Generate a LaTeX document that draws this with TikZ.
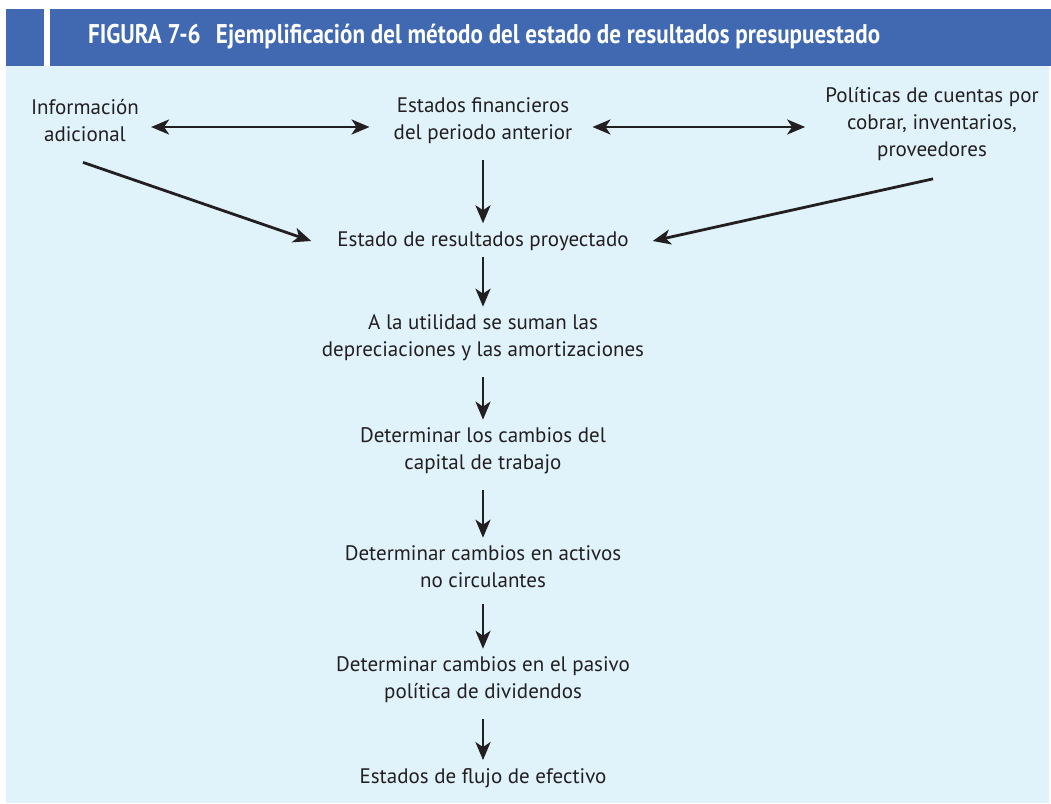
\documentclass[tikz,border=0pt]{standalone}
\usepackage{fontspec}
\setmainfont{PT Sans}
\usetikzlibrary{arrows.meta}
\definecolor{hdrblue}{RGB}{65,105,178}
\definecolor{panel}{RGB}{224,243,250}
\definecolor{ink}{RGB}{35,31,32}
\begin{document}
\begin{tikzpicture}[x=1pt,y=-1pt,
  lbl/.style={align=center, text=ink, font=\fontsize{21}{27}\selectfont, inner sep=2pt},
  flow/.style={-{Stealth[length=18pt,width=15pt,inset=5pt]}, line width=2.8pt, draw=ink},
  twoway/.style={{Stealth[length=18pt,width=15pt,inset=5pt]}-{Stealth[length=18pt,width=15pt,inset=5pt]}, line width=2.8pt, draw=ink}]
\useasboundingbox (0,0) rectangle (1051,803);
% panel and heading bar
\fill[panel] (6,66) rectangle (1049,803);
\fill[hdrblue] (6,9) rectangle (44,66);
\fill[hdrblue] (50,9) rectangle (1051,66);
\node[anchor=base west, text=white, inner sep=0] (title) at (88,43.5)
  {\resizebox{792pt}{\height}{\fontsize{27}{30}\selectfont\bfseries FIGURA 7-6\hspace{18pt}Ejemplificación del método del estado de resultados presupuestado}};
% labels
\node[lbl] (info) at (85,121) {Información\\adicional};
\node[lbl] (estf) at (483,121) {Estados financieros\\del periodo anterior};
\node[lbl] (pol) at (932,124) {Políticas de cuentas por\\cobrar, inventarios,\\proveedores};
\node[lbl] (proy) at (483,241) {Estado de resultados proyectado};
\node[lbl] (util) at (483,338) {A la utilidad se suman las\\depreciaciones y las amortizaciones};
\node[lbl] (capt) at (483,451) {Determinar los cambios del\\capital de trabajo};
\node[lbl] (actv) at (483,567) {Determinar cambios en activos\\no circulantes};
\node[lbl] (pasv) at (483,680) {Determinar cambios en el pasivo\\política de dividendos};
\node[lbl] (flujo) at (483,778) {Estados de flujo de efectivo};
% connectors
\draw[twoway] ([xshift=10pt,yshift=-6pt]info.east) -- ([xshift=-22pt,yshift=-6pt]estf.west);
\draw[twoway] ([xshift=18pt,yshift=-6pt]estf.east) -- ([xshift=-18pt,yshift=-3pt]pol.west);
\draw[flow] ([yshift=-14pt]estf.south) -- ([yshift=6pt]proy.north);
\draw[flow] ([xshift=-2pt,yshift=-18pt]info.south) -- ([xshift=-24pt]proy.west);
\draw[flow] ([xshift=1pt,yshift=-16pt]pol.south) -- ([xshift=22pt]proy.east);
\draw[flow] ([yshift=-4pt]proy.south) -- ([yshift=6pt]util.north);
\draw[flow] ([yshift=-14pt]util.south) -- ([yshift=6pt]capt.north);
\draw[flow] ([yshift=-14pt]capt.south) -- ([yshift=6pt]actv.north);
\draw[flow] ([yshift=-14pt]actv.south) -- ([yshift=6pt]pasv.north);
\draw[flow] ([yshift=-14pt]pasv.south) -- ([yshift=6pt]flujo.north);
\end{tikzpicture}
\end{document}
